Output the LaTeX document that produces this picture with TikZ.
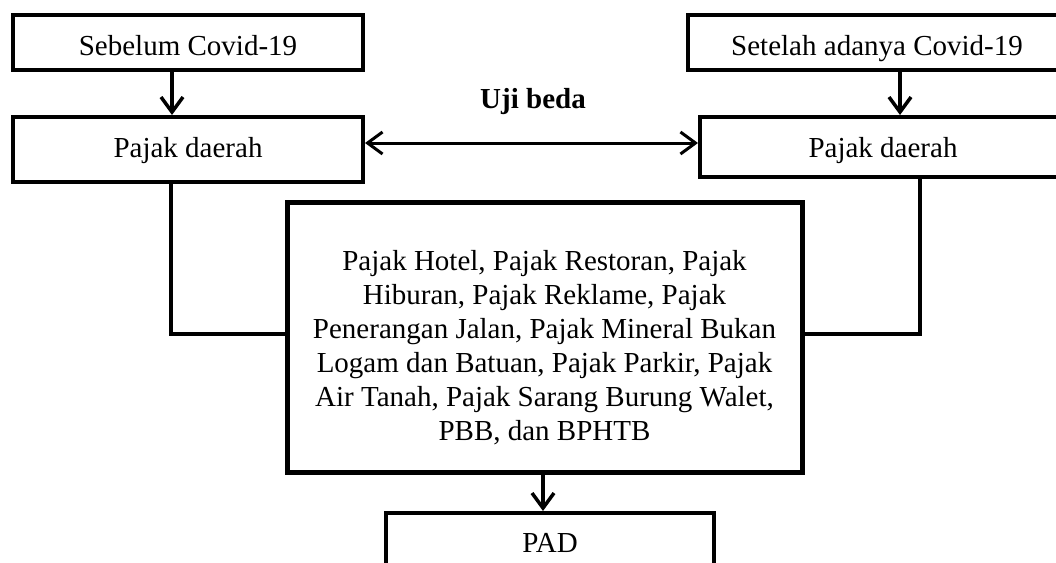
\documentclass[tikz,border=0pt]{standalone}
\usepackage{fontspec}
\setmainfont{Liberation Serif}
\usetikzlibrary{arrows.meta}
\tikzset{
  box/.style={draw, line width=4pt, inner sep=0pt},
  bigbox/.style={draw, line width=5pt, inner sep=0pt},
  txt/.style={inner sep=0pt, align=center, font=\fontsize{29}{34}\selectfont},
  btxt/.style={txt, anchor=base},
  arr/.style={line width=3.5pt, -{Straight Barb[length=15pt,width=22pt]}},
  darr/.style={line width=3pt, {Straight Barb[length=15pt,width=22pt]}-{Straight Barb[length=15pt,width=22pt]}},
  conn/.style={line width=3.5pt}
}
\begin{document}
\begin{tikzpicture}[x=1pt,y=-1pt]
\path[use as bounding box] (0,0) rectangle (1056,562);
\clip (0,0) rectangle (1056,562);
\node[box, minimum width=350pt, minimum height=55pt] (s1) at (188,42.5) {};
\node[box, minimum width=378pt, minimum height=55pt] (s2) at (877,42.5) {};
\node[box, minimum width=350pt, minimum height=65pt] (p1) at (188,149.5) {};
\node[box, minimum width=366pt, minimum height=60pt] (p2) at (883,147) {};
\node[bigbox, minimum width=515pt, minimum height=270pt] (m) at (544.5,337) {};
\node[box, minimum width=328pt, minimum height=60pt] (pad) at (550,543) {};
\node[btxt] (s1t) at (188,55) {Sebelum Covid-19};
\node[btxt] (s2t) at (877,55) {Setelah adanya Covid-19};
\node[btxt] (p1t) at (188,157) {Pajak daerah};
\node[btxt] (p2t) at (883,157) {Pajak daerah};
\node[btxt] (padt) at (550,552) {PAD};
\node[btxt, font=\fontsize{29}{34}\selectfont\bfseries] (uji) at (533,108) {Uji beda};
\node[txt] (mt) at (544.5,348) {Pajak Hotel, Pajak Restoran, Pajak\\Hiburan, Pajak Reklame, Pajak\\Penerangan Jalan, Pajak Mineral Bukan\\Logam dan Batuan, Pajak Parkir, Pajak\\Air Tanah, Pajak Sarang Burung Walet,\\PBB, dan BPHTB};
\coordinate (a1) at (172,0);
\coordinate (a2) at (900,0);
\coordinate (ay) at (0,143);
\coordinate (c1) at (171,334);
\coordinate (c2) at (920,334);
\coordinate (c3) at (543,0);
\draw[arr] (a1 |- s1.south) -- (a1 |- p1.north);
\draw[arr] (a2 |- s2.south) -- (a2 |- p2.north);
\draw[darr] (p1.east |- ay) -- (p2.west |- ay);
\draw[conn] (c1 |- p1.south) -- (c1) -- (c1 -| m.west);
\draw[conn] (c2 |- p2.south) -- (c2) -- (c2 -| m.east);
\draw[arr] (c3 |- m.south) -- (c3 |- pad.north);
\end{tikzpicture}
\end{document}
